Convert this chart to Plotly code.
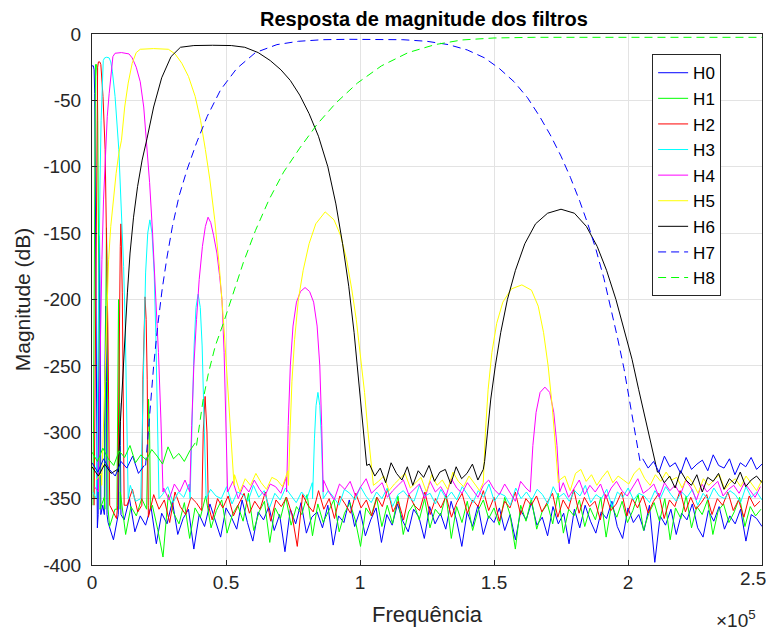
import numpy as np
import plotly.graph_objects as go

# frequencies in kHz (axis shown as x10^5 Hz), magnitudes in dB
NAMES = ["H0", "H1", "H2", "H3", "H4", "H5", "H6", "H7", "H8"]
COLORS = ["#0000ff", "#00ff00", "#ff0000", "#00ffff", "#ff00ff",
          "#ffff00", "#000000", "#0000ff", "#00ff00"]
DASHED = [False, False, False, False, False, False, False, True, True]

X_TICKS = [0, 50, 100, 150, 200, 250]
X_TICK_TEXT = ["0", "0.5", "1", "1.5", "2", "2.5"]
Y_TICKS = [0, -50, -100, -150, -200, -250, -300, -350, -400]
Y_TICK_TEXT = ["0", "-50", "-100", "-150", "-200", "-250", "-300", "-350", "-400"]

# pass-band and side lobes (None separates lobes)
H0_f = [0, 0.5, 0.8, 1.0, 1.2, 1.4, 1.6, 1.9, None,
        2.3, 2.5, 2.8, 3.1, 3.3, None,
        4.6, 4.8, 5.1, 5.4, 5.6, None,
        9.8, 10.0, 10.3, 10.6, 10.8]
H0_db = [-24, -24, -27, -45, -100, -170, -250, -360, None,
         -362, -235, -152, -235, -362, None,
         -362, -262, -205, -262, -362, None,
         -362, -310, -278, -310, -362]

H1_f = [0.4, 0.6, 0.75, 0.9, 1.05, 1.3, 1.7, 1.95, 2.15, 2.35, 2.55, 2.8, 3.0, None,
        4.8, 5.0, 5.2, 5.4, 5.6, 5.8, 6.0, None,
        9.3, 9.6, 9.9, 10.2, 10.5, None,
        20.4, 20.7, 21.1, 21.5, 21.8]
H1_db = [-355, -260, -170, -90, -35, -23, -23, -32, -65, -125, -200, -280, -358, None,
         -358, -250, -175, -146, -175, -250, -358, None,
         -358, -250, -200, -250, -358, None,
         -358, -300, -275, -300, -358]

H2_f = [0.8, 1.0, 1.2, 1.5, 1.8, 2.1, 2.4, 2.9, 3.3, 3.6, 4.1, 4.9, 5.3, 5.6, 5.9, 6.2, 6.6, None,
        9.6, 10.0, 10.3, 10.55, 10.8, 11.05, 11.3, 11.6, 12.0, None,
        18.6, 19.0, 19.4, 19.8, 20.2, 20.6, 21.0, None,
        41.0, 41.5, 42.2, 42.9, 43.4]
H2_db = [-355, -300, -240, -150, -65, -25, -21, -21, -23, -30, -47, -87, -130, -170, -220, -275, -355, None,
         -355, -260, -195, -160, -143, -160, -195, -260, -355, None,
         -355, -260, -215, -198, -215, -260, -355, None,
         -355, -300, -273, -300, -355]

H3_f = [1.6, 1.9, 2.2, 2.6, 3.0, 3.4, 3.8, 4.2, 4.7, 5.5, 6.4, 7.0, 7.6, 8.6, 10.0, 11.0, 11.8, 12.4, 12.9, 13.5, None,
        18.2, 18.8, 19.4, 20.0, 20.8, 21.6, 22.4, 23.2, 23.8, 24.4, 25.0, None,
        36.6, 37.4, 38.1, 38.8, 39.6, 40.4, 41.1, 41.8, 42.6, None,
        82.3, 83.0, 83.6, 84.3, 85.0, 85.6, 86.3]
H3_db = [-350, -300, -240, -170, -110, -65, -35, -20, -18, -17.5, -18, -21, -28, -47, -87, -130, -175, -220, -270, -350, None,
         -350, -290, -225, -180, -150, -140, -150, -180, -225, -290, -350, None,
         -350, -290, -235, -206, -196, -206, -235, -290, -350, None,
         -350, -305, -280, -270, -280, -305, -350]

H4_f = [2.4, 2.8, 3.2, 3.7, 4.3, 5.0, 5.7, 6.4, 7.1, 7.8, 8.6, 11.0, 13.8, 15.0, 16.5, 18.0, 19.3, 20.5, 21.5, 22.6, 23.8, 24.8, 25.7, 26.5, None,
        36.5, 37.2, 38.0, 39.0, 40.0, 41.2, 42.3, 43.3, 44.3, 45.4, 46.6, 47.6, 48.5, 49.3, 50.0, 50.6, None,
        72.6, 73.2, 74.0, 75.0, 76.3, 77.8, 79.5, 81.2, 82.7, 84.0, 85.0, 85.7, 86.3, None,
        163.5, 164.5, 165.7, 167.2, 169.0, 170.8, 172.3, 173.5, 174.5]
H4_db = [-345, -270, -215, -170, -125, -88, -62, -45, -28, -17, -14.5, -14, -15, -18, -25, -36, -55, -85, -112, -150, -195, -240, -290, -345, None,
         -345, -295, -250, -215, -185, -160, -145, -138, -142, -152, -165, -182, -200, -240, -290, -345, None,
         -345, -295, -250, -220, -202, -194, -191, -194, -202, -220, -250, -295, -345, None,
         -345, -310, -285, -270, -266, -270, -285, -310, -345]

H5_f = [3.6, 4.2, 5.0, 5.6, 6.2, 7.0, 8.0, 9.0, 10.0, 11.0, 12.2, 13.5, 15.0, 16.5, 18.0, 23.0, 28.5, 31.0, 33.5, 36.0,
        38.5, 40.5, 42.3, 44.0, 45.8, 47.5, 49.2, 50.8, 52.0, 53.0, None,
        73.3, 73.9, 74.6, 75.6, 77.0, 78.8, 81.0, 83.5, 87.0, 90.3, 92.8, 95.0, 96.9, 98.6, 100.2, 101.7, 103.0, 104.3, 105.0, None,
        146.0, 146.8, 147.8, 149.2, 151.0, 153.3, 156.5, 160.4, 164.0, 166.5, 168.5, 170.2, 171.7, 173.0, 174.0]
H5_db = [-340, -300, -250, -200, -170, -145, -122, -105, -90, -80, -55, -37, -22, -14, -11.5, -11, -11.5, -15, -22, -32,
         -47, -65, -87, -110, -140, -175, -220, -270, -310, -340, None,
         -340, -300, -262, -230, -200, -178, -158, -143, -134, -140, -152, -170, -192, -215, -242, -270, -300, -330, -340, None,
         -338, -300, -268, -240, -218, -202, -192, -189, -193, -205, -225, -250, -280, -315, -338]

H6_f = [9.8, 10.6, 11.5, 12.3, 13.2, 14.2, 15.5, 17.0, 18.7, 20.5, 23.0, 26.0, 29.5, 33.0, 38.0, 45.0, 52.0,
        57.0, 62.0, 66.5, 70.5, 74.0, 77.5, 81.0, 84.5, 88.0, 91.0, 93.5, 95.8, 97.8, 99.5, 101.0, 102.5, None,
        146.5, 147.5, 148.8, 150.5, 152.5, 155.0, 158.0, 161.5, 165.5, 170.0, 175.0, 180.0, 184.5, 188.5,
        192.0, 195.5, 198.5, 201.5, 204.0, 206.5, 208.8, 211.0]
H6_db = [-330, -292, -255, -225, -195, -165, -138, -115, -95, -79, -55, -33, -17, -10, -8.7, -8.5, -8.7,
         -10, -14, -20, -27, -35, -46, -60, -77, -100, -128, -158, -190, -225, -260, -295, -325, None,
         -322, -300, -275, -250, -225, -200, -178, -158, -143, -135, -132, -135, -145, -160,
         -178, -200, -222, -245, -268, -290, -310, -330]

H7_f = [20.0, 20.8, 21.8, 23.0, 24.5, 26.2, 28.0, 30.0, 32.5, 35.5, 39.0, 43.0, 48.0, 54.0, 61.0, 69.0, 77.0,
        86.0, 96.0, 106.0, 116.0, 125.0, 133.0, 140.0, 146.5, 152.0, 157.5, 162.5, 167.0, 171.0, 175.0,
        178.5, 182.0, 185.0, 188.0, 191.0, 193.5, 196.0, 198.5, 200.5, 202.5, 204.5]
H7_db = [-325, -305, -275, -250, -220, -192, -168, -145, -122, -102, -82, -62, -42, -26, -14, -8, -5.5,
         -4.3, -4, -4, -4.3, -5.5, -8, -12, -18, -26, -36, -48, -62, -76, -92,
         -108, -126, -143, -162, -184, -205, -228, -252, -275, -300, -322]

H8_f = [39.0, 40.0, 41.5, 43.5, 46.0, 49.0, 52.5, 56.5, 61.0, 66.0, 71.5, 77.5, 84.0, 91.0, 99.0,
        108.0, 118.0, 128.0, 138.0, 150.0, 165.0, 250.0]
H8_db = [-310, -295, -275, -255, -235, -218, -196, -172, -148, -125, -104, -86, -68, -52, -37,
         -24, -14, -8, -4.5, -3, -2.5, -2.5]

# stop-band noise floor: spans (kHz) and the values read along each span
H0_spans = [(0, 250)]
H0_noise = [[-360, -372, -355, -368, -381, -359, -366, -350, -375, -363,
             -370, -356, -384, -361, -369, -352, -377, -365, -358, -388,
             -362, -371, -354, -367, -379, -357, -364, -373, -351, -368,
             -382, -360, -366, -356, -374, -362, -390, -358, -369, -353,
             -376, -364, -360, -372, -355, -385, -363, -368, -351, -371,
             -359, -378, -366, -357, -383, -362, -370, -354, -367, -375,
             -358, -364, -380, -356, -369, -361, -373, -352, -366, -386,
             -360, -371, -355, -377, -363, -368, -357, -374, -362, -381,
             -359, -366, -353, -370, -364, -378, -356, -369, -361, -384,
             -358, -372, -355, -367, -376, -360, -365, -352, -371, -380,
             -357, -368, -362, -374, -355, -398, -363, -370, -358, -377,
             -361, -366, -354, -372, -379, -359, -367, -356, -373, -363,
             -369, -358, -382, -362, -365, -371]]

H1_spans = [(0.6, 249.6)]
H1_noise = [[-352, -366, -349, -371, -358, -345, -377, -356, -363, -350,
             -368, -355, -373, -394, -347, -361, -369, -353, -380, -357,
             -364, -348, -372, -359, -351, -376, -362, -355, -367, -346,
             -374, -360, -352, -383, -357, -365, -349, -370, -356, -362,
             -347, -378, -354, -368, -359, -351, -375, -361, -353, -366,
             -386, -357, -363, -349, -371, -355, -369, -348, -377, -360,
             -354, -366, -350, -372, -358, -363, -347, -380, -356, -368,
             -352, -374, -359, -351, -365, -357, -370, -349, -362, -388,
             -355, -367, -350, -373, -360, -354, -369, -346, -376, -358,
             -363, -351, -371, -357, -366, -349, -379, -355, -364, -352,
             -368, -359, -347, -374, -361, -353, -367, -350, -381, -357,
             -365, -348, -372, -356, -362, -351, -377, -359, -354, -368,
             -360, -349, -371, -356, -363, -358]]

H2_spans = [(1.2, 249.2)]
H2_noise = [[-350, -361, -346, -357, -365, -349, -355, -343, -360, -352,
             -364, -347, -358, -351, -368, -345, -356, -362, -349, -353,
             -359, -344, -366, -350, -357, -348, -363, -354, -346, -361,
             -352, -358, -345, -367, -351, -356, -349, -362, -386, -347,
             -355, -360, -344, -358, -350, -365, -348, -354, -361, -346,
             -357, -351, -363, -349, -356, -343, -360, -352, -366, -347,
             -355, -359, -345, -362, -350, -357, -348, -364, -353, -346,
             -361, -351, -356, -344, -359, -349, -367, -352, -357, -345,
             -362, -350, -355, -348, -360, -353, -346, -364, -351, -358,
             -343, -361, -349, -356, -352, -366, -347, -359, -354, -345,
             -363, -350, -357, -348, -361, -352, -346, -365, -351, -356,
             -344, -360, -349, -358, -353, -347, -362, -350, -355, -345,
             -359, -351, -364, -348, -356, -352]]

H3_spans = [(0.3, 250)]
H3_noise = [[-345, -351, -342, -349, -354, -344, -348, -340, -352, -346,
             -350, -343, -356, -347, -341, -353, -345, -349, -339, -351,
             -346, -355, -343, -348, -350, -341, -354, -345, -347, -352,
             -340, -349, -344, -357, -346, -351, -342, -348, -353, -345,
             -350, -338, -347, -352, -344, -349, -355, -343, -346, -351,
             -341, -348, -353, -345, -350, -342, -356, -347, -344, -349,
             -352, -340, -348, -346, -354, -343, -350, -345, -351, -341,
             -347, -353, -344, -349, -339, -352, -346, -348, -355, -342,
             -350, -345, -351, -343, -347, -354, -341, -349, -346, -352,
             -344, -348, -340, -353, -347, -350, -343, -356, -345, -349,
             -342, -351, -346, -348, -353, -344, -350, -341, -347, -352,
             -345, -349, -343, -355, -346, -351, -342, -348, -350, -344,
             -347, -353, -341, -349, -345, -351]]

H4_spans = [(0.9, 249.4)]
H4_noise = [[-341, -336, -347, -339, -344, -350, -338, -343, -335, -346,
             -340, -348, -337, -342, -351, -339, -345, -336, -343, -349,
             -338, -344, -341, -335, -347, -342, -337, -350, -340, -345,
             -336, -343, -348, -339, -341, -346, -334, -344, -349, -338,
             -342, -347, -340, -336, -345, -351, -339, -343, -337, -348,
             -341, -335, -346, -342, -338, -349, -344, -340, -336, -347,
             -343, -339, -350, -337, -345, -341, -348, -335, -342, -346,
             -338, -344, -349, -340, -336, -343, -347, -339, -345, -352,
             -337, -342, -346, -340, -348, -335, -344, -341, -338, -349,
             -343, -336, -347, -340, -345, -339, -350, -342, -337, -344,
             -348, -341, -335, -346, -343, -339, -349, -338, -344, -340,
             -347, -336, -342, -351, -339, -345, -341, -337, -348, -343,
             -340, -346, -338, -344, -349, -341]]

H5_spans = [(1.5, 250)]
H5_noise = [[-336, -331, -342, -334, -339, -345, -333, -338, -330, -341,
             -335, -343, -332, -337, -346, -334, -340, -331, -338, -344,
             -333, -339, -336, -330, -342, -337, -332, -345, -335, -340,
             -331, -338, -343, -334, -336, -341, -329, -339, -344, -333,
             -337, -342, -335, -331, -340, -346, -334, -338, -332, -343,
             -336, -330, -341, -337, -333, -344, -339, -335, -331, -342,
             -338, -334, -345, -332, -340, -336, -343, -330, -337, -341,
             -333, -339, -344, -335, -331, -338, -342, -334, -340, -347,
             -332, -337, -341, -335, -343, -330, -339, -336, -333, -344,
             -331, -328, -337, -332, -340, -334, -329, -338, -333, -336,
             -339, -331, -327, -335, -340, -332, -337, -330, -336, -334,
             -342, -333, -338, -346, -335, -340, -336, -332, -343, -338,
             -335, -341, -333, -339, -344, -336]]

H6_spans = [(0, 9.5), (103.5, 146), (211.5, 250)]
H6_noise = [[-326, -333, -324, -331, -328],
            [-324, -333, -327, -338, -323, -331, -336, -326, -340, -329,
             -334, -325, -337, -330, -328, -339, -326, -335, -331, -324,
             -336, -328],
            [-330, -338, -333, -342, -329, -336, -340, -332, -345, -334,
             -337, -331, -343, -335, -339, -330, -341, -336, -333, -338]]

H7_spans = [(0, 19.5), (205.5, 250)]
H7_noise = [[-323, -330, -320, -328, -333, -322, -327, -318, -331, -325],
            [-320, -327, -322, -330, -318, -326, -323, -331, -319, -328,
             -324, -321, -329, -317, -325, -327, -320, -332, -323, -326,
             -319, -328, -324]]

H8_spans = [(0, 38.5)]
H8_noise = [[-315, -322, -312, -320, -325, -314, -319, -310, -323, -317,
             -321, -313, -318, -324, -311, -320, -316, -322, -314, -308]]

LOBE_F = [H0_f, H1_f, H2_f, H3_f, H4_f, H5_f, H6_f, H7_f, H8_f]
LOBE_DB = [H0_db, H1_db, H2_db, H3_db, H4_db, H5_db, H6_db, H7_db, H8_db]
SPANS = [H0_spans, H1_spans, H2_spans, H3_spans, H4_spans, H5_spans, H6_spans, H7_spans, H8_spans]
NOISE = [H0_noise, H1_noise, H2_noise, H3_noise, H4_noise, H5_noise, H6_noise, H7_noise, H8_noise]

FONT = "Liberation Sans, Arial, sans-serif"


def split_lobes(fs, dbs):
    lobes, cur = [], []
    for f, d in zip(fs, dbs):
        if f is None:
            lobes.append(cur)
            cur = []
        else:
            cur.append((f, d))
    if cur:
        lobes.append(cur)
    return lobes


def noise_points(spans, noise, ranges):
    segs = []
    for (a, b), vals in zip(spans, noise):
        xs = np.linspace(a, b, len(vals))
        seg = [(x, v) for x, v in zip(xs, vals)
               if not any(lo <= x <= hi for lo, hi in ranges)]
        segs.append(seg)
    return segs


fig = go.Figure()
for name, color, dashed, lf, ld, spans, noise in zip(NAMES, COLORS, DASHED, LOBE_F, LOBE_DB, SPANS, NOISE):
    lobes = split_lobes(lf, ld)
    ranges = [(l[0][0], l[-1][0]) for l in lobes]
    segs = noise_points(spans, noise, ranges)
    if not dashed:
        pts = sorted([p for l in lobes for p in l] + [p for s in segs for p in s])
        fig.add_trace(go.Scatter(x=[p[0] for p in pts], y=[p[1] for p in pts], mode="lines",
                                 name=name, legendgroup=name,
                                 line=dict(color=color, width=1)))
    else:
        # noise floor drawn solid (dense in the original), lobe dashed
        xs, ys = [], []
        for s in segs:
            xs += [p[0] for p in s] + [None]
            ys += [p[1] for p in s] + [None]
        fig.add_trace(go.Scatter(x=xs, y=ys, mode="lines", showlegend=False, legendgroup=name,
                                 line=dict(color=color, width=1)))
        xs, ys = [], []
        for l in lobes:
            xs += [p[0] for p in l] + [None]
            ys += [p[1] for p in l] + [None]
        fig.add_trace(go.Scatter(x=xs, y=ys, mode="lines", name=name, legendgroup=name,
                                 line=dict(color=color, width=1, dash="8px,5px")))

axis_common = dict(showline=True, linecolor="#262626", linewidth=1, mirror=True,
                   ticks="inside", ticklen=5, tickcolor="#262626", automargin=False,
                   showgrid=True, gridcolor="#e3e3e3", gridwidth=1, zeroline=False,
                   tickfont=dict(family=FONT, size=19, color="#262626"))

# last x label sits at the window edge: drawn as an annotation so it is not hidden
x_tick_text = X_TICK_TEXT[:-1] + [""]
edge_label = dict(text=X_TICK_TEXT[-1], xref="x", yref="paper", x=X_TICKS[-1], y=0,
                  xanchor="right", yanchor="top", xshift=5, yshift=-2, showarrow=False,
                  borderpad=0, font=dict(family=FONT, size=19, color="#262626"))

# the page body adds an 8px offset, so the figure is sized to fit the window
fig.update_layout(
    width=766, height=623,
    margin=dict(l=84, r=12, t=26, b=66),
    paper_bgcolor="white", plot_bgcolor="white",
    title=dict(text="<b>Resposta de magnitude dos filtros</b>", x=0.543, xanchor="center",
               y=1 - 11 / 623, yanchor="middle", yref="container",
               font=dict(family=FONT, size=20, color="black")),
    xaxis=dict(range=[0, 250], tickvals=X_TICKS, ticktext=x_tick_text,
               ticklabelstandoff=0,
               title=dict(text="Frequência", standoff=14,
                          font=dict(family=FONT, size=22, color="#262626")),
               **axis_common),
    yaxis=dict(range=[-400, 0], tickvals=Y_TICKS, ticktext=Y_TICK_TEXT,
               ticklabelstandoff=6,
               title=dict(text="Magnitude (dB)", standoff=6,
                          font=dict(family=FONT, size=21, color="#262626")),
               **axis_common),
    legend=dict(x=0.836, y=0.962, xanchor="left", yanchor="top",
                bgcolor="white", bordercolor="#262626", borderwidth=1,
                font=dict(family=FONT, size=17, color="black"),
                tracegroupgap=0.5),
    showlegend=True,
    annotations=[edge_label,
                 dict(text="×10<sup>5</sup>", xref="paper", yref="paper", x=0.994, y=-0.076,
                      xanchor="right", yanchor="top", showarrow=False,
                      font=dict(family=FONT, size=19, color="#262626"))],
)

fig.write_html("out.html")
